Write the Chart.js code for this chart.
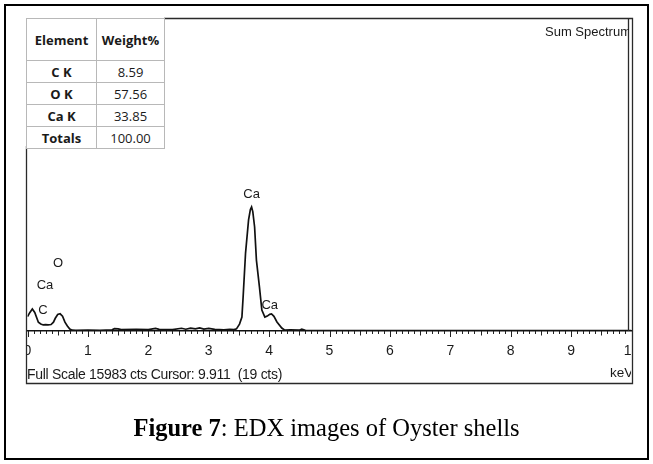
<!DOCTYPE html>
<html>
<head>
<meta charset="utf-8">
<script src="https://cdn.jsdelivr.net/npm/chart.js@4"></script>
<style>
html,body{margin:0;padding:0;background:#fff;}
#wrap{position:relative;width:653px;height:464px;overflow:hidden;background:#fff;}
#c{position:absolute;left:0;top:0;}
#tbl{position:absolute;left:26px;top:18px;width:139px;border-collapse:collapse;table-layout:fixed;font-family:"Open Sans",sans-serif;font-size:13px;color:#1a1a1a;background:#fff;}
#tbl td{border:1px solid #b8b8b8;text-align:center;padding:0;line-height:14px;}
#tbl tr.h td{height:41px;font-weight:bold;}
#tbl tr.r td{height:21px;}
#tbl td.el{font-weight:bold;}
.lbl{position:absolute;font-family:"Liberation Sans",Arial,sans-serif;color:#1a1a1a;white-space:nowrap;}
#sum{left:545px;top:24px;width:84px;overflow:hidden;font-size:13px;line-height:16px;}
#fs{left:27px;top:366px;font-size:14px;line-height:16px;letter-spacing:-0.3px;}
#kev{left:610px;top:365px;width:21px;overflow:hidden;font-size:13.5px;line-height:16px;}
#cap{position:absolute;left:0;width:653px;top:413px;text-align:center;font-family:"Liberation Serif","Times New Roman",serif;font-size:24.5px;line-height:30px;color:#000;}
</style>
</head>
<body>
<div id="wrap">
<canvas id="c" width="653" height="464"></canvas>
<table id="tbl"><tbody id="tb"></tbody></table>
<div class="lbl" id="sum">Sum Spectrum</div>
<div class="lbl" id="fs">Full Scale 15983 cts Cursor: 9.911&nbsp;&nbsp;(19 cts)</div>
<div class="lbl" id="kev">keV</div>
<div id="cap"><b>Figure 7</b>: EDX images of Oyster shells</div>
</div>
<script>
// ---- data ----
const energyKeV = [0.00,0.04,0.08,0.12,0.18,0.22,0.26,0.30,0.34,0.39,0.43,0.46,0.50,0.54,0.58,0.62,0.66,0.70,0.74,0.80,1.00,1.20,1.40,1.44,1.50,1.55,1.80,2.00,2.12,2.18,2.40,2.55,2.62,2.70,2.78,2.85,2.92,3.00,3.10,3.25,3.35,3.42,3.46,3.51,3.55,3.57,3.61,3.66,3.69,3.71,3.73,3.76,3.79,3.84,3.88,3.93,3.97,4.01,4.04,4.08,4.13,4.21,4.26,4.35,4.50,4.54,4.60,5.00,6.00,7.00,8.00,9.00,10.00];
const countsCts = [730,950,1120,950,450,360,310,330,310,330,450,650,840,880,760,450,260,100,40,30,40,30,60,120,110,70,80,70,130,80,70,140,90,150,110,160,100,130,80,60,90,70,110,350,710,1740,3980,5670,6200,6330,6100,5310,3620,2250,1070,710,760,850,870,750,460,150,40,60,40,90,30,20,20,20,20,20,20];
const fullScaleCts = 15983;
const xTickValues = [0,1,2,3,4,5,6,7,8,9,10];
const peakNames = ['Ca','Ca','O','Ca','C'];
const peakNameKeV = [3.71,4.01,0.505,0.29,0.257];
const peakNameCts = [6950,1330,3470,2350,1070];
const tableElements = ['C K','O K','Ca K','Totals'];
const tableWeights = ['8.59','57.56','33.85','100.00'];
const tableHeaders = ['Element','Weight%'];

// ---- table ----
(function(){
  const tb = document.getElementById('tb');
  let h = '<tr class="h"><td style="width:69px">'+tableHeaders[0]+'</td><td>'+tableHeaders[1]+'</td></tr>';
  for (let i=0;i<tableElements.length;i++){
    h += '<tr class="r"><td class="el">'+tableElements[i]+'</td><td>'+tableWeights[i]+'</td></tr>';
  }
  tb.innerHTML = h;
})();

const clipFrame = {
  id:'clipFrame',
  beforeDraw(chart){
    const ctx = chart.ctx;
    ctx.save();
    ctx.beginPath();
    ctx.rect(26.5,0,605.5,464);
    ctx.clip();
  },
  afterDatasetsDraw(chart){
    const ctx = chart.ctx, xs = chart.scales.x, ys = chart.scales.y;
    ctx.save();
    ctx.fillStyle = '#1a1a1a';
    ctx.font = '13px "Liberation Sans", Arial, sans-serif';
    ctx.textAlign = 'center';
    ctx.textBaseline = 'middle';
    for (let i=0;i<peakNames.length;i++){
      ctx.fillText(peakNames[i], xs.getPixelForValue(peakNameKeV[i]), ys.getPixelForValue(peakNameCts[i]));
    }
    ctx.restore();
  },
  afterDraw(chart){
    const ctx = chart.ctx, xs = chart.scales.x;
    const b = chart.chartArea.bottom;
    ctx.strokeStyle = '#222';
    ctx.lineWidth = 1;
    for (let i=0;i<=100;i++){
      const px = Math.round(xs.getPixelForValue(i/10))+0.5;
      const len = (i%10===0)?6:((i%5===0)?4.5:3);
      ctx.beginPath(); ctx.moveTo(px,b); ctx.lineTo(px,b+len); ctx.stroke();
    }
    ctx.restore();
    // frames
    ctx.save();
    ctx.strokeStyle = '#2a2a2a';
    ctx.lineWidth = 1.3;
    ctx.beginPath();
    ctx.moveTo(164,18.5); ctx.lineTo(632.5,18.5);
    ctx.lineTo(632.5,383.5); ctx.lineTo(26.5,383.5); ctx.lineTo(26.5,146);
    ctx.moveTo(628.5,18.5); ctx.lineTo(628.5,b);
    ctx.stroke();
    ctx.strokeStyle = '#000';
    ctx.lineWidth = 2;
    ctx.strokeRect(5,5,643,454);
    ctx.restore();
  }
};

new Chart(document.getElementById('c'), {
  type:'line',
  data:{
    datasets:[{
      data: energyKeV.map((e,i)=>({x:e,y:countsCts[i]})),
      borderColor:'#111',
      borderWidth:1.7,
      pointRadius:0,
      tension:0,
      fill:false
    }]
  },
  options:{
    responsive:false,
    animation:false,
    events:[],
    layout:{padding:{left:27.5,right:21.5,top:18,bottom:93}},
    plugins:{legend:{display:false},tooltip:{enabled:false}},
    scales:{
      x:{
        type:'linear', min:0, max:10,
        afterFit(s){ s.height = 40; },
        afterBuildTicks(s){ s.ticks = xTickValues.map(v=>({value:v})); },
        border:{display:true,color:'#111',width:1.5},
        grid:{display:false,drawTicks:false},
        ticks:{color:'#1a1a1a',padding:12,font:{family:'"Liberation Sans", Arial, sans-serif',size:14},maxRotation:0,autoSkip:false,callback:v=>String(v)}
      },
      y:{
        type:'linear', min:0, max:fullScaleCts, display:false
      }
    }
  },
  plugins:[clipFrame]
});
</script>
</body>
</html>
